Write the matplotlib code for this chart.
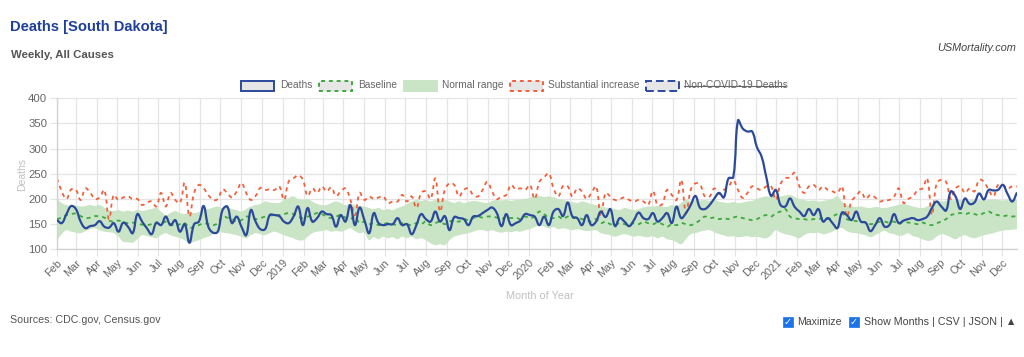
import numpy as np
import pandas as pd
import matplotlib
matplotlib.use("Agg")
import matplotlib.pyplot as plt
import matplotlib.dates as mdates
from matplotlib.patches import Rectangle, PathPatch
from matplotlib.path import Path
from matplotlib.lines import Line2D

plt.rcParams['font.family'] = ['Liberation Sans', 'DejaVu Sans']

# weekly series, first week 2018-02-01
weeks = pd.date_range('2018-02-01', periods=204, freq='7D')

deaths = [
    158, 152, 170, 186, 180, 155, 142, 146, 148, 156,
    145, 143, 152, 135, 153, 145, 132, 170, 155, 142,
    130, 153, 148, 165, 148, 158, 135, 150, 113, 150,
    155, 186, 145, 133, 135, 178, 185, 152, 165, 145,
    128, 178, 155, 140, 140, 168, 168, 166, 155, 152,
    165, 185, 148, 182, 155, 162, 175, 170,
    168, 145, 168, 155, 188, 148, 183, 158, 132, 172,
    152, 148, 150, 150, 162, 148, 150, 130, 148, 170,
    160, 155, 175, 155, 166, 138, 164, 162, 160, 148,
    165, 166, 172, 178, 183, 172, 146, 170, 148, 152,
    157, 170, 168, 165, 148, 165, 148, 175, 180, 166,
    193, 165, 162, 148, 168, 148, 155, 175, 164, 180,
    146, 162, 155, 146, 158, 173, 162, 160, 172, 155,
    162, 172, 152, 185, 162, 172, 188, 206, 182, 180,
    188, 201, 212, 203, 241, 243, 356, 340, 334, 334,
    303, 284, 243, 206, 218, 188, 185, 201, 184, 175,
    166, 180, 168, 180, 155, 162, 152, 142, 173, 168,
    158, 175, 155, 153, 136, 148, 162, 145, 148, 170,
    152, 157, 160, 162, 158, 160, 165, 182, 195, 185,
    177, 215, 205, 180, 201, 190, 193, 211, 199, 218,
    217, 218, 228, 210, 195, 213,
]

baseline = [
    160, 163, 168, 170, 171, 166, 162, 163, 166, 165,
    163, 157, 155, 157, 154, 152, 153, 151, 149, 148,
    150, 152, 150, 155, 150, 146, 150, 152, 143, 145,
    148, 152, 150, 148, 152, 165, 163, 160, 155, 158,
    165, 163, 160, 162, 165, 168, 166, 168, 170, 172,
    170, 165, 162, 165, 168, 172, 170, 165, 162, 165,
    168, 163, 160, 165, 152, 155, 150, 152, 148, 150,
    152, 150, 148, 152, 150, 148, 152, 150, 155, 148,
    152, 155, 150, 155, 158, 155, 160, 158, 162, 165,
    163, 165, 165, 163, 160, 165, 162, 163, 160, 165,
    162, 165, 175, 170, 163, 162, 165, 160, 165, 162,
    163, 160, 158, 155, 160, 152, 155, 150, 148, 152,
    150, 148, 152, 150, 155, 152, 150, 153, 150, 145,
    150, 148, 152, 150, 148, 152, 158, 165, 162, 163,
    160, 162, 160, 163, 165, 162, 160, 158, 160, 165,
    168, 165, 172, 175, 180, 165, 162, 160, 160, 158,
    160, 160, 162, 160, 165, 170, 172, 160, 158, 156,
    155, 153, 150, 152, 155, 155, 153, 155, 150, 155,
    153, 152, 150, 153, 150, 148, 152, 155, 160, 168,
    170, 172, 170, 172, 170, 168, 172, 175, 170, 168,
    166, 167, 165, 167,
]

normal_high = [
    200, 192, 188, 186, 187, 185, 186, 188, 186, 188,
    183, 178, 176, 178, 175, 177, 175, 178, 176, 178,
    180, 182, 175, 168, 172, 176, 172, 170, 173, 172,
    174, 178, 180, 183, 185, 182, 184, 180, 178, 175,
    180, 185, 188, 190, 195, 193, 192, 192, 198, 202,
    205, 200, 198, 200, 195, 190, 188, 188, 192, 195,
    192, 188, 190, 188, 186, 185, 182, 180, 182, 178,
    180, 178, 182, 185, 190, 195, 198, 196, 198, 195,
    198, 196, 198, 195, 192, 195, 192, 194, 196, 195,
    193, 192, 196, 198, 197, 198, 196, 198, 199, 200,
    202, 205, 206, 204, 205, 203, 200, 198, 196, 194,
    192, 195, 193, 190, 188, 185, 183, 182, 180, 178,
    182, 180, 178, 180, 183, 185, 185, 186, 185, 184,
    188, 185, 192, 198, 196, 198, 197, 198, 196, 198,
    195, 193, 192, 194, 192, 193, 195, 196, 200, 203,
    205, 204, 206, 205, 207, 208, 204, 200, 198, 196,
    197, 195, 196, 198, 200, 205, 195, 188, 186, 184,
    185, 183, 182, 184, 183, 182, 184, 186, 188, 190,
    188, 185, 183, 182, 185, 190, 194, 195, 196, 198,
    197, 198, 196, 197, 199, 198, 197, 198, 199, 198,
    197, 198, 199, 198,
]

normal_low = [
    118, 130, 138, 135, 133, 132, 136, 140, 142, 138,
    135, 134, 132, 125, 115, 114, 113, 120, 128, 126,
    124, 122, 128, 132, 128, 125, 122, 118, 112, 115,
    118, 122, 125, 130, 135, 133, 132, 130, 128, 125,
    122, 128, 132, 130, 128, 132, 135, 132, 128, 125,
    122, 118, 118, 125, 132, 135, 136, 138, 135, 137,
    135, 138, 142, 136, 132, 133, 118, 124, 120, 125,
    122, 124, 120, 125, 122, 125, 120, 122, 118, 112,
    108, 110, 108, 118, 125, 128, 130, 132, 135, 138,
    138, 136, 138, 135, 133, 135, 134, 136, 135, 138,
    140, 144, 148, 145, 142, 144, 140, 142, 140, 138,
    140, 138, 136, 137, 138, 132, 130, 128, 125, 128,
    130, 128, 125, 127, 125, 124, 126, 122, 125, 120,
    118, 114, 110, 120, 130, 132, 135, 137, 138, 134,
    130, 128, 125, 126, 124, 125, 126, 124, 125, 123,
    122, 128, 138, 133, 130, 128, 125, 122, 128, 132,
    132, 133, 130, 132, 135, 140, 142, 136, 133, 132,
    130, 128, 124, 128, 133, 137, 132, 130, 127, 128,
    132, 126, 124, 120, 117, 118, 125, 130, 128, 124,
    120, 125, 128, 124, 122, 125, 128, 130, 132, 135,
    137, 138, 139, 140,
]

substantial = [
    241, 215, 200, 219, 218, 198, 221, 213, 200, 203,
    218, 160, 208, 198, 203, 205, 200, 200, 188, 193,
    195, 185, 212, 185, 212, 198, 192, 232, 165, 212,
    228, 221, 208, 198, 200, 219, 212, 203, 215, 232,
    212, 198, 206, 222, 218, 219, 218, 225, 198, 235,
    241, 247, 238, 206, 221, 212, 225, 215, 223, 206,
    215, 221,
    200, 168, 212, 198, 205, 200, 203, 205, 192, 195,
    195, 208, 195, 205, 182, 212, 215, 200, 241, 175,
    218, 231, 228, 205, 218, 221, 208, 205, 218, 234,
    215, 200, 205, 208, 228, 219, 221, 218, 228, 200,
    234, 243, 251, 221, 205, 226, 225, 205, 221, 215,
    200, 212, 225, 165, 212, 205, 198, 200, 203, 198,
    195, 198, 195, 188, 216, 188,
    190, 218, 208, 198, 238, 172, 218, 231, 228, 205,
    205, 221, 210, 218, 225, 237, 218, 202, 212, 225,
    221, 218, 225, 225, 198, 230, 241, 243, 252, 225,
    212, 225, 228, 218, 225, 218, 215, 212, 225, 165,
    195, 206, 215, 200, 208, 203, 195, 198, 198, 205,
    221, 192, 200, 205, 218, 221, 241, 168, 231, 238,
    234, 200, 221, 225, 212, 221, 215, 238, 234, 218,
    205, 228, 228, 221, 225, 225,
]

y_ticks = [100, 150, 200, 250, 300, 350, 400]

W, H = 1024, 357
BLUE = '#2c4a9c'
GREEN = '#3fa83f'
RED = '#f2603c'
BAND = '#c9e5c5'
GRID = '#e4e4e4'
TXT = '#666666'
AX_W, AX_H = 960.0, 151.0


def fx(px):
    return px / W


def fy(py):
    return 1 - py / H


def spline_path(xs, ys, sx, sy, tension=0.4):
    # chart-style tension curve: bezier control points from neighbouring points
    xs = np.asarray(xs, float)
    ys = np.asarray(ys, float)
    px, py = xs * sx, ys * sy
    n = len(xs)
    cp_prev = np.zeros((n, 2))
    cp_next = np.zeros((n, 2))
    for i in range(n):
        a = max(i - 1, 0)
        b = min(i + 1, n - 1)
        d01 = np.hypot(px[i] - px[a], py[i] - py[a])
        d12 = np.hypot(px[b] - px[i], py[b] - py[i])
        tot = d01 + d12
        s01 = d01 / tot if tot else 0
        s12 = d12 / tot if tot else 0
        fa, fb = tension * s01, tension * s12
        cp_prev[i] = (xs[i] - fa * (xs[b] - xs[a]), ys[i] - fa * (ys[b] - ys[a]))
        cp_next[i] = (xs[i] + fb * (xs[b] - xs[a]), ys[i] + fb * (ys[b] - ys[a]))
    verts = []
    for i in range(n - 1):
        verts += [tuple(cp_next[i]), tuple(cp_prev[i + 1]), (xs[i + 1], ys[i + 1])]
    return verts


fig = plt.figure(figsize=(W / 100, H / 100), dpi=100)
ax = fig.add_axes([fx(57), fy(249.3), AX_W / W, AX_H / H])

xnum = mdates.date2num(weeks)
sx = AX_W / (xnum[-1] - xnum[0])
sy = AX_H / 300.0


def curve(ys):
    v = [(xnum[0], ys[0])] + spline_path(xnum, ys, sx, sy)
    codes = [Path.MOVETO] + [Path.CURVE4] * (len(v) - 1)
    return Path(v, codes)


# normal range band
up = [(xnum[0], normal_high[0])] + spline_path(xnum, normal_high, sx, sy)
lo = spline_path(xnum[::-1], normal_low[::-1], sx, sy)
band_v = up + [(xnum[-1], normal_low[-1])] + lo + [(xnum[0], normal_high[0])]
band_c = ([Path.MOVETO] + [Path.CURVE4] * (len(up) - 1) + [Path.LINETO]
          + [Path.CURVE4] * len(lo) + [Path.CLOSEPOLY])
ax.add_patch(PathPatch(Path(band_v, band_c), facecolor=BAND, lw=0, zorder=1))

ax.add_patch(PathPatch(curve(substantial), fill=False, edgecolor=RED, lw=1.3,
                       ls=(0, (2.2, 2.2)), zorder=2))
ax.add_patch(PathPatch(curve(baseline), fill=False, edgecolor=GREEN, lw=1.3,
                       ls=(0, (2.2, 2.2)), zorder=3))
ax.add_patch(PathPatch(curve(deaths), fill=False, edgecolor=BLUE, lw=1.6,
                       zorder=4, joinstyle='round'))

ax.set_xlim(weeks[0], weeks[-1])
ax.set_ylim(100, 400)
ax.set_yticks(y_ticks)

ax.xaxis.set_major_locator(mdates.MonthLocator())


def month_fmt(x, pos=None):
    d = mdates.num2date(x)
    return str(d.year) if d.month == 1 else d.strftime('%b')


ax.xaxis.set_major_formatter(plt.FuncFormatter(month_fmt))
ax.tick_params(axis='x', labelrotation=45, labelsize=7.8, colors=TXT, length=5, color=GRID, pad=1)
ax.tick_params(axis='y', labelsize=8.2, colors=TXT, length=5, color=GRID, pad=2)
for lab in ax.get_xticklabels():
    lab.set_ha('right')
    lab.set_rotation_mode('anchor')

ax.grid(True, color=GRID, lw=0.9)
ax.set_axisbelow(True)
for side in ['top', 'right']:
    ax.spines[side].set_visible(False)
for side in ['left', 'bottom']:
    ax.spines[side].set_color('#d2d2d2')
    ax.spines[side].set_linewidth(1)

fig.text(fx(22), fy(174), 'Deaths', rotation=90, color='#c0c0c0', fontsize=7.5,
         ha='center', va='center')
fig.text(fx(540), fy(296), 'Month of Year', color='#c0c0c0', fontsize=7.8,
         ha='center', va='center')

# titles
fig.text(fx(10), fy(27), 'Deaths [South Dakota]', color='#1f3f9c', fontsize=10.6,
         fontweight='bold', ha='left', va='center')
fig.text(fx(11), fy(55), 'Weekly, All Causes', color='#555555', fontsize=8.2,
         fontweight='bold', ha='left', va='center')
fig.text(fx(1016), fy(48), 'USMortality.com', color='#444444', fontsize=7.8,
         style='italic', ha='right', va='center')

# legend row: (box left, text left, text right, label, edge, style, fill, strike)
legend_items = [
    (241, 280, 311, 'Deaths', BLUE, '-', '#e6e6e6', False),
    (319, 358, 395, 'Baseline', GREEN, (0, (2, 2)), '#e6e6e6', False),
    (404, 442, 502, 'Normal range', BAND, '-', BAND, False),
    (510, 548, 638, 'Substantial increase', RED, (0, (2, 2)), '#e6e6e6', False),
    (646, 684, 785, 'Non-COVID-19 Deaths', BLUE, (0, (4, 2)), '#e6e6e6', True),
]
for bx, tx0, tx1, name, ec, ls, fc, strike in legend_items:
    r = Rectangle((fx(bx), fy(90.5)), 33 / W, 10 / H, transform=fig.transFigure,
                  facecolor=fc, edgecolor=ec, lw=1.4, ls=ls)
    fig.add_artist(r)
    fig.text(fx(tx0), fy(85.5), name, color=TXT, fontsize=7.3,
             ha='left', va='center')
    if strike:
        fig.add_artist(Line2D([fx(tx0), fx(tx1)], [fy(86), fy(86)],
                              transform=fig.transFigure, color=TXT, lw=0.8))

# footer
fig.text(fx(10), fy(320), 'Sources: CDC.gov, Census.gov', color='#555555', fontsize=7.7,
         ha='left', va='center')
for cx in [783, 849]:
    fig.add_artist(Rectangle((fx(cx), fy(327)), 10 / W, 10 / H, transform=fig.transFigure,
                             facecolor='#1a73e8', edgecolor='#1a73e8', lw=0.5))
    fig.text(fx(cx + 5), fy(322), '\u2713', color='white', fontsize=7, fontweight='bold',
             ha='center', va='center', family='DejaVu Sans')
fig.text(fx(797), fy(322), 'Maximize', color='#444444', fontsize=7.6, ha='left', va='center')
fig.text(fx(864), fy(322), 'Show Months | CSV | JSON | \u25b2', color='#444444', fontsize=7.7,
         ha='left', va='center', family=['Liberation Sans', 'DejaVu Sans'])

fig.savefig('out.png', dpi=100)
